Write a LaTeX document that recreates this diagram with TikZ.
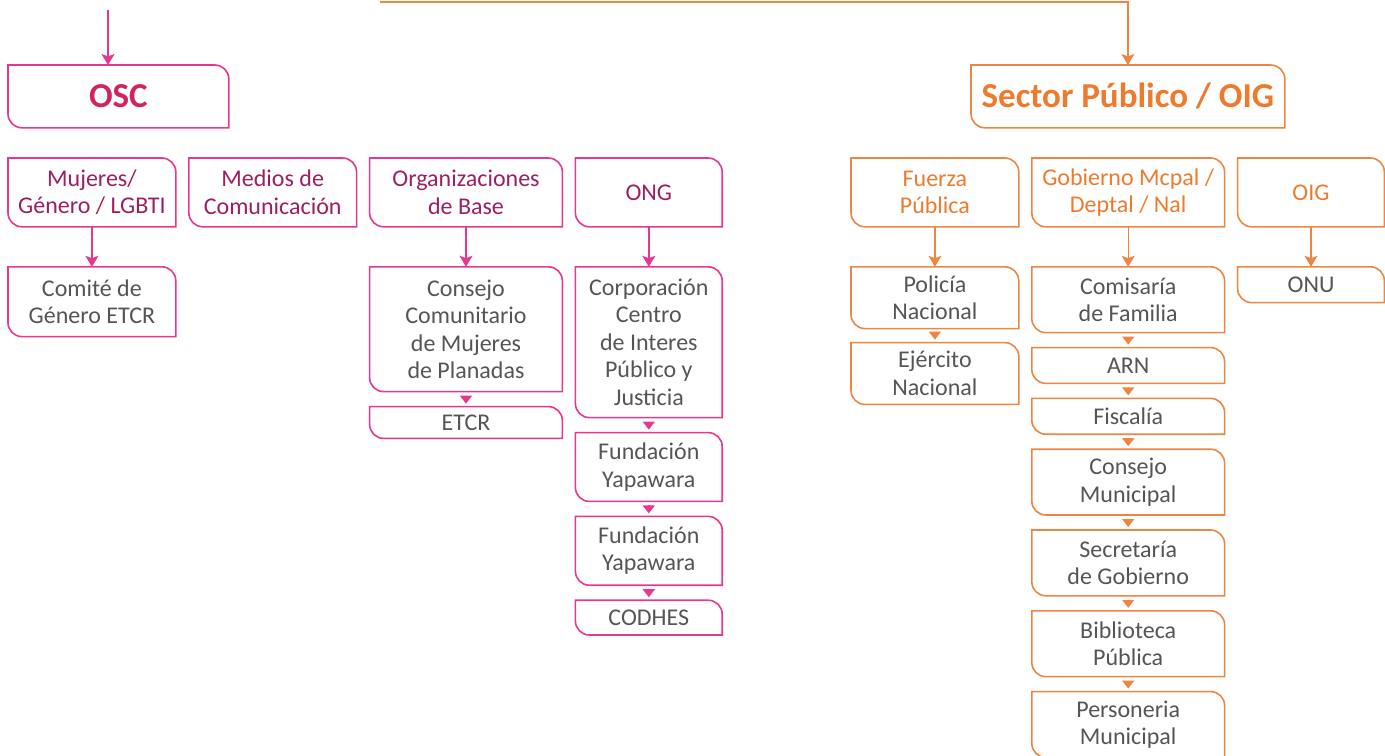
\documentclass[tikz,border=0pt]{standalone}
\usepackage{fontspec}
\setmainfont{Carlito}
\usepackage{xcolor}
\definecolor{rosa}{HTML}{E8378F}
\definecolor{rosaosc}{HTML}{D1235E}
\definecolor{rosatxt}{HTML}{9E1E62}
\definecolor{naranja}{HTML}{EE8641}
\definecolor{naranjatxt}{HTML}{EE7A2E}
\definecolor{gristxt}{HTML}{555555}
\usetikzlibrary{arrows.meta, positioning}

\begin{document}
\begin{tikzpicture}[
	x=0.5pt, y=-0.5pt,
	caja/.style={rectangle, align=flush center, inner sep=0pt, text=gristxt,
	             font=\fontsize{12}{13.75}\selectfont},
	sector/.style={caja, minimum height=31pt, font=\fontsize{17.5}{20}\selectfont\bfseries},
	cabeza/.style={caja, minimum height=34pt, text=#1},
	ancho1/.style={minimum width=83.5pt, text width=80pt},
	ancho2/.style={minimum width=96pt, text width=92pt},
	ancho3/.style={minimum width=73pt, text width=70pt},
	borde/.style={line width=0.8pt},
	flecha/.style={-{Stealth[length=5.5pt, width=6.5pt, inset=1.2pt]}, line width=0.7pt},
	punta/.style={-{Triangle[length=4pt, width=6pt]}, line width=0.7pt,
	              shorten <=2pt, shorten >=1.5pt},
	node distance=20pt and 6.5pt
	]
	\useasboundingbox (0,0) rectangle (1385,755);

	% sectores
	\node[sector, text=rosaosc, minimum width=110pt, anchor=north west] (osc) at (8,65) {OSC};
	\node[sector, text=naranjatxt, minimum width=156.5pt, anchor=north west] (sector) at (971,65) {Sector Público / OIG};

	% OSC
	\node[cabeza=rosatxt, ancho1, anchor=north west] (mujeres) at (8,158) {Mujeres/\\Género / LGBTI};
	\node[cabeza=rosatxt, ancho1, right=of mujeres] (medios) {Medios de\\Comunicación};
	\node[cabeza=rosatxt, ancho2, right=of medios] (organiz) {Organizaciones\\de Base};
	\node[cabeza=rosatxt, ancho3, right=of organiz] (ong) {ONG};

	\node[caja, ancho1, minimum height=34.5pt, below=of mujeres] (comite) {Comité de\\Género ETCR};
	\node[caja, ancho2, minimum height=62pt, below=of organiz] (consejo) {Consejo\\Comunitario\\de Mujeres\\de Planadas};
	\node[caja, ancho2, minimum height=15.5pt, below=7.5pt of consejo] (etcr) {ETCR};
	\node[caja, ancho3, minimum height=75pt, below=of ong] (corporacion) {Corporación\\Centro\\de Interes\\Público y\\Justicia};
	\node[caja, ancho3, minimum height=34pt, below=7.5pt of corporacion] (fundA) {Fundación\\Yapawara};
	\node[caja, ancho3, minimum height=34pt, below=7.5pt of fundA] (fundB) {Fundación\\Yapawara};
	\node[caja, ancho3, minimum height=17pt, below=7.5pt of fundB] (codhes) {CODHES};

	% Sector Publico / OIG
	\node[cabeza=naranjatxt, ancho1, anchor=north west] (fuerza) at (851,158) {Fuerza\\Pública};
	\node[cabeza=naranjatxt, ancho2, right=of fuerza] (gobierno) {Gobierno Mcpal /\\Deptal / Nal};
	\node[cabeza=naranjatxt, ancho3, right=of gobierno] (oig) {OIG};

	\node[caja, ancho1, minimum height=30.5pt, below=of fuerza] (policia) {Policía\\Nacional};
	\node[caja, ancho1, minimum height=30.5pt, below=7pt of policia] (ejercito) {Ejército\\Nacional};
	\node[caja, ancho2, minimum height=32.5pt, below=of gobierno] (comisaria) {Comisaría\\de Familia};
	\node[caja, ancho2, minimum height=17.5pt, below=7.5pt of comisaria] (arn) {ARN};
	\node[caja, ancho2, minimum height=17.5pt, below=7.5pt of arn] (fiscalia) {Fiscalía};
	\node[caja, ancho2, minimum height=32.5pt, below=7.5pt of fiscalia] (concejo) {Consejo\\Municipal};
	\node[caja, ancho2, minimum height=32.5pt, below=7.5pt of concejo] (secretaria) {Secretaría\\de Gobierno};
	\node[caja, ancho2, minimum height=32.5pt, below=7.5pt of secretaria] (biblioteca) {Biblioteca\\Pública};
	\node[caja, ancho2, minimum height=32.5pt, below=7.5pt of biblioteca] (personeria) {Personeria\\Municipal};
	\node[caja, ancho3, minimum height=17.5pt, below=of oig] (onu) {ONU};

	% bordes con dos esquinas redondeadas
	\foreach \n in {osc, mujeres, medios, organiz, ong, comite, consejo, etcr, corporacion, fundA, fundB, codhes}
		\draw[borde, rosa] (\n.north west) -- ([xshift=-7pt]\n.north east)
			arc[start angle=90, end angle=0, radius=7pt] -- (\n.south east)
			-- ([xshift=7pt]\n.south west) arc[start angle=270, end angle=180, radius=7pt] -- cycle;
	\foreach \n in {sector, fuerza, gobierno, oig, policia, ejercito, comisaria, arn, fiscalia, concejo, secretaria, biblioteca, personeria, onu}
		\draw[borde, naranja] (\n.north west) -- ([xshift=-7pt]\n.north east)
			arc[start angle=90, end angle=0, radius=7pt] -- (\n.south east)
			-- ([xshift=7pt]\n.south west) arc[start angle=270, end angle=180, radius=7pt] -- cycle;

	% flechas
	\coordinate (arribaosc) at (108,10);
	\coordinate (arribasector) at (380,2);
	\draw[flecha, rosa] (arribaosc) -- (arribaosc |- osc.north);
	\draw[flecha, naranja, line width=0.8pt] (arribasector) -| (sector.north);

	\foreach \a/\b in {mujeres/comite, organiz/consejo, ong/corporacion}
		\draw[flecha, rosa] (\a) -- (\b);
	\foreach \a/\b in {fuerza/policia, gobierno/comisaria, oig/onu}
		\draw[flecha, naranja] (\a) -- (\b);

	\foreach \a/\b in {consejo/etcr, corporacion/fundA, fundA/fundB, fundB/codhes}
		\draw[punta, rosa] (\a) -- (\b);
	\foreach \a/\b in {policia/ejercito, comisaria/arn, arn/fiscalia, fiscalia/concejo, concejo/secretaria, secretaria/biblioteca, biblioteca/personeria}
		\draw[punta, naranja] (\a) -- (\b);
\end{tikzpicture}
\end{document}
